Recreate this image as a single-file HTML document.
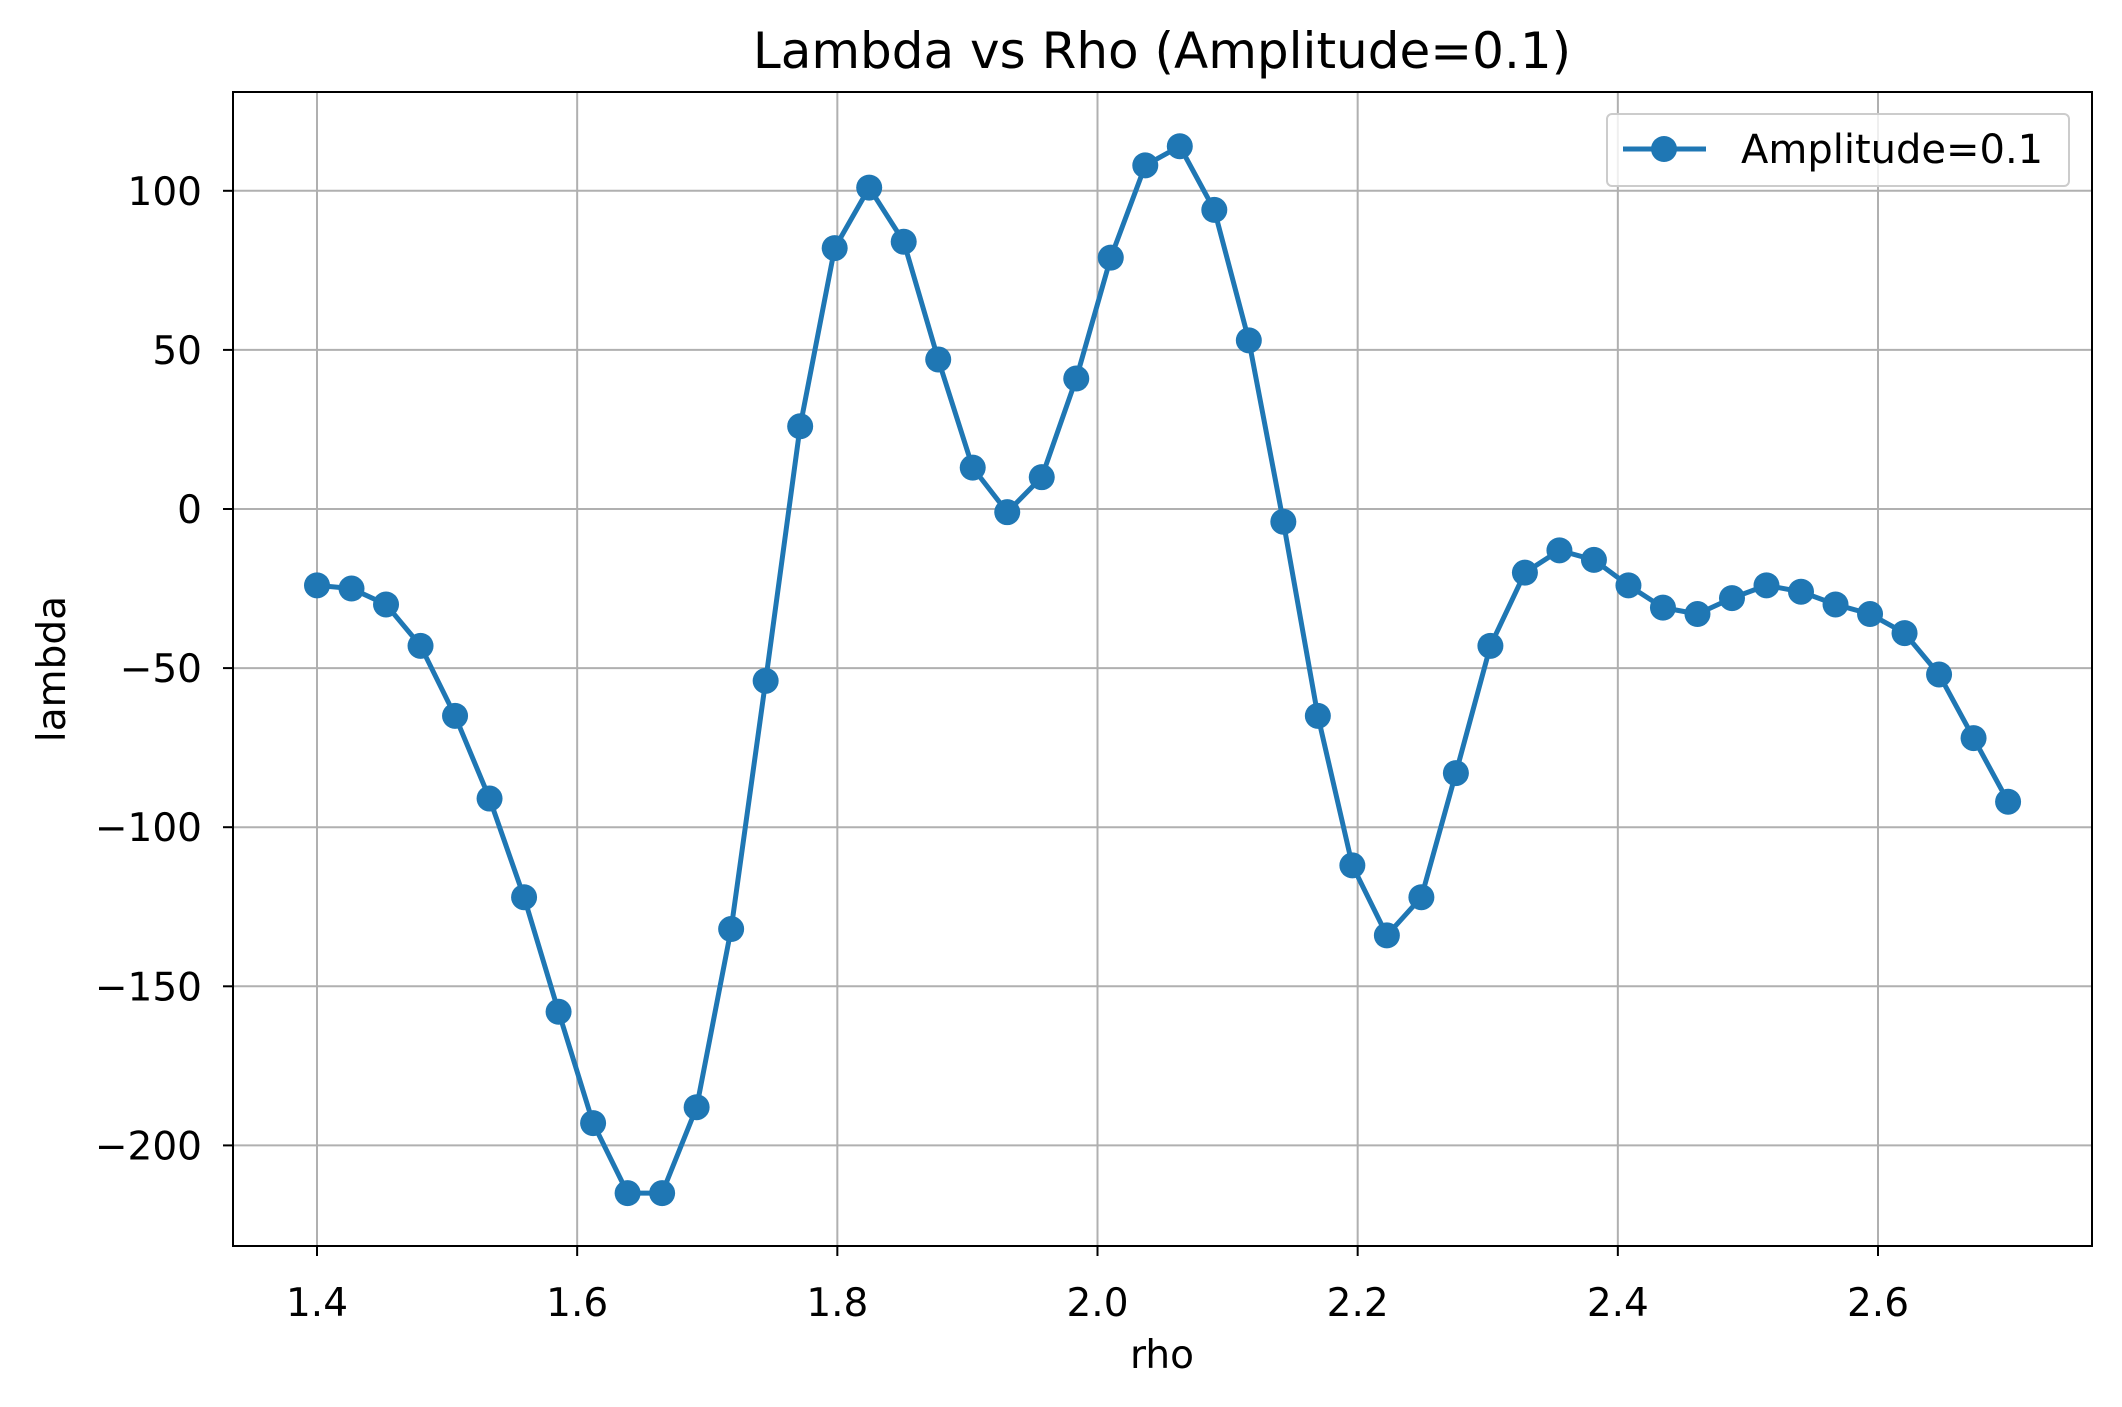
<!DOCTYPE html>
<html><head><meta charset="utf-8"><style>
html,body{margin:0;padding:0;background:#fff;}
svg{display:block;font-family:"DejaVu Sans","Liberation Sans",sans-serif;}
</style></head><body>
<svg id="chart" width="2122" height="1407" viewBox="0 0 2122 1407">
<text x="1162" y="68" font-size="50" text-anchor="middle" fill="#000">Lambda vs Rho (Amplitude=0.1)</text>
<g id="grid"></g>
<g id="series"></g>
<rect x="233" y="92" width="1859" height="1154" fill="none" stroke="#000" stroke-width="2"/>
<g id="ticks"></g>
<text x="1162" y="1368" font-size="39" text-anchor="middle">rho</text>
<text x="0" y="0" font-size="39" text-anchor="middle" transform="translate(65,669) rotate(-90)">lambda</text>
<g>
<rect x="1607" y="114" width="462" height="72" rx="5" fill="#fff" fill-opacity="0.8" stroke="#ccc" stroke-width="2"/>
<line x1="1623" y1="149" x2="1706" y2="149" stroke="#1f77b4" stroke-width="5"/>
<circle cx="1664" cy="149" r="13" fill="#1f77b4"/>
<text x="1741" y="163" font-size="40">Amplitude=0.1</text>
</g>
</svg>
<script>
const xStart = 1.4;
const xEnd = 2.7;
const lambdaValues = [-24,-25,-30,-43,-65,-91,-122,-158,-193,-215,-215,-188,-132,-54,26,82,101,84,47,13,-1,10,41,79,108,114,94,53,-4,-65,-112,-134,-122,-83,-43,-20,-13,-16,-24,-31,-33,-28,-24,-26,-30,-33,-39,-52,-72,-92];
const xTicks = [1.4,1.6,1.8,2.0,2.2,2.4,2.6];
const xTickLabels = ["1.4","1.6","1.8","2.0","2.2","2.4","2.6"];
const yTicks = [100,50,0,-50,-100,-150,-200];
const yTickLabels = ["100","50","0","\u221250","\u2212100","\u2212150","\u2212200"];

const NS = "http://www.w3.org/2000/svg";
function sx(v){ return 317 + (v - 1.4) * (1878 - 317) / 1.2; }
function sy(v){ return 509 - v * (509 - 190.8) / 100; }
function mk(tag, attrs, parent){ const e = document.createElementNS(NS, tag); for (const k in attrs) e.setAttribute(k, attrs[k]); parent.appendChild(e); return e; }

const grid = document.getElementById('grid');
const ticks = document.getElementById('ticks');
xTicks.forEach((t, i) => {
  const x = sx(t);
  const gl = mk('line', {x1:x, y1:92, x2:x, y2:1246, stroke:'#b0b0b0', 'stroke-width':2}, grid);
  
  
  const tk = mk('line', {x1:x, y1:1246, x2:x, y2:1256, stroke:'#000', 'stroke-width':2}, ticks);
  
  
  const lb = mk('text', {x:x, y:1316, 'font-size':39, 'text-anchor':'middle'}, ticks);
  lb.textContent = xTickLabels[i];
  
  
});
yTicks.forEach((t, i) => {
  const y = sy(t);
  const gl = mk('line', {x1:233, y1:y, x2:2092, y2:y, stroke:'#b0b0b0', 'stroke-width':2}, grid);
  
  
  const tk = mk('line', {x1:223, y1:y, x2:233, y2:y, stroke:'#000', 'stroke-width':2}, ticks);
  
  
  const lb = mk('text', {x:202, y:y + 14, 'font-size':39, 'text-anchor':'end'}, ticks);
  lb.textContent = yTickLabels[i];
  
  
});

const series = document.getElementById('series');
const n = lambdaValues.length;
const pts = lambdaValues.map((v, i) => [sx(xStart + (xEnd - xStart) * i / (n - 1)), sy(v)]);
const pl = mk('polyline', {points: pts.map(p => p.join(',')).join(' '), fill:'none', stroke:'#1f77b4', 'stroke-width':5, 'stroke-linejoin':'round'}, series);


pts.forEach(p => {
  const c = mk('circle', {cx:p[0], cy:p[1], r:13, fill:'#1f77b4'}, series);
  
  
});
</script>
</body></html>
